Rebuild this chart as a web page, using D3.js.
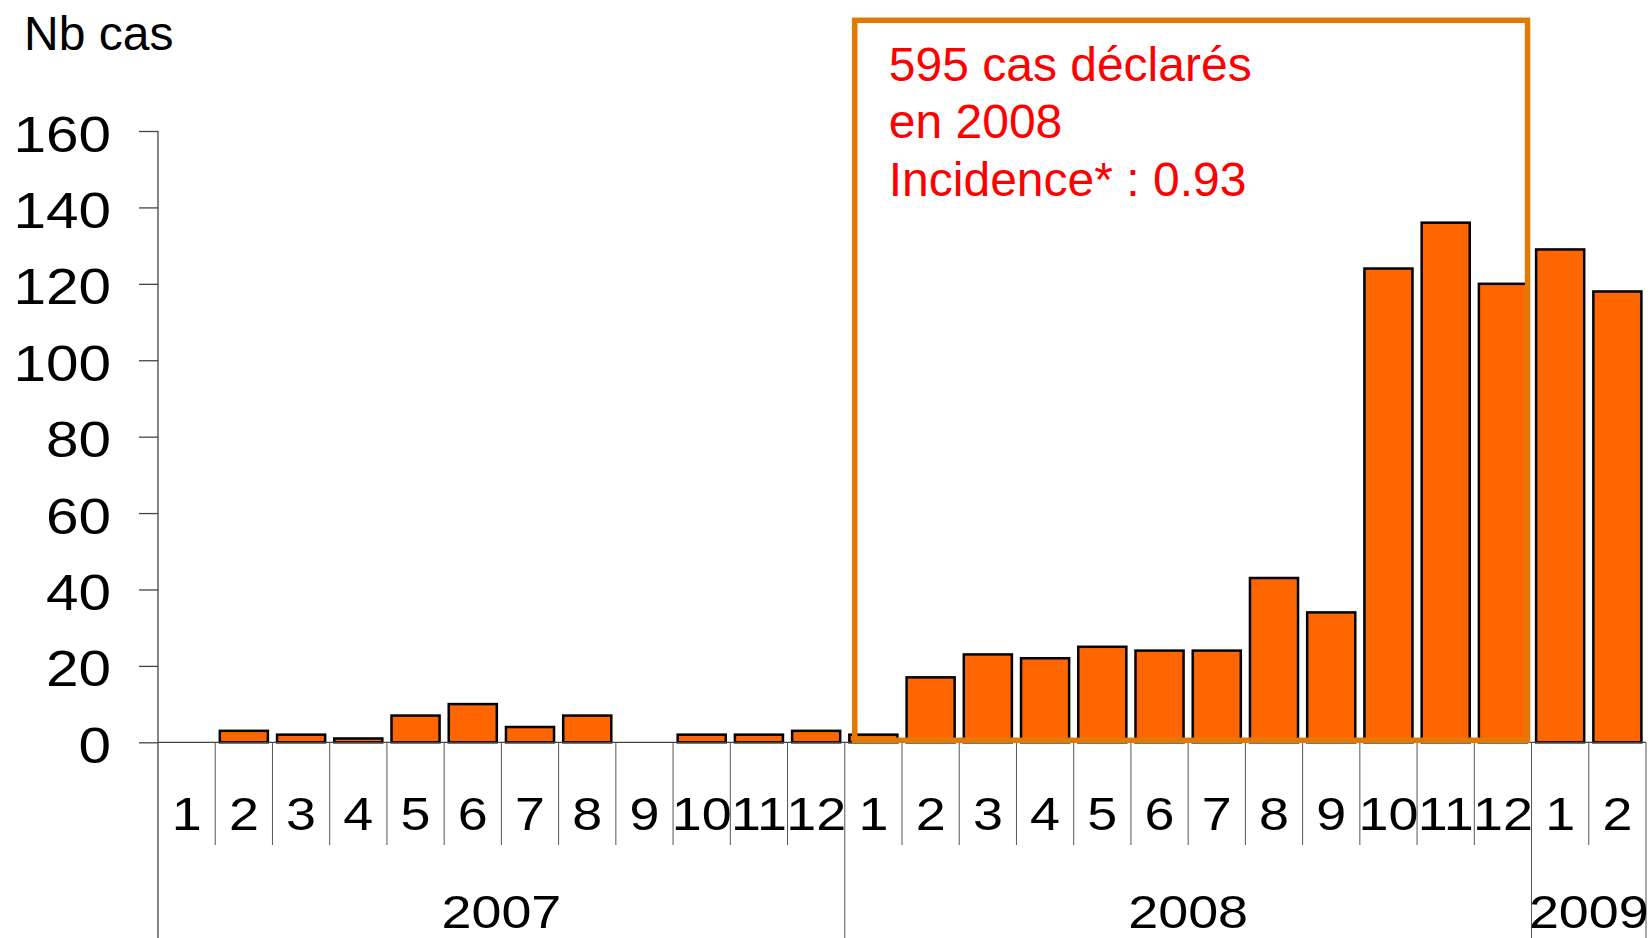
<!DOCTYPE html>
<html>
<head>
<meta charset="utf-8">
<script src="https://cdn.jsdelivr.net/npm/d3@7"></script>
<style>
  body { margin: 0; background: #fff; }
  text { font-family: "Liberation Sans", Arial, sans-serif; }
</style>
</head>
<body>
<script>
// Monthly case counts, Jan 2007 - Feb 2009
const years = ["2007", "2008", "2009"];
const monthsPerYear = [12, 12, 2];
const monthLabels = [
  "1", "2", "3", "4", "5", "6", "7", "8", "9", "10", "11", "12",
  "1", "2", "3", "4", "5", "6", "7", "8", "9", "10", "11", "12",
  "1", "2"
];
const cases = [
  0, 3, 2, 1, 7, 10, 4, 7, 0, 2, 2, 3,
  2, 17, 23, 22, 25, 24, 24, 43, 34, 124, 136, 120,
  129, 118
];
const yTicks = [0, 20, 40, 60, 80, 100, 120, 140, 160];
const boxLines = ["595 cas déclarés", "en 2008", "Incidence* : 0.93"];

const width = 1650;
const height = 938;
const left = 158;
const right = 1646;
const stretch = 1.17; // axis text is horizontally stretched in the original

// one key per month
const keys = [];
years.forEach((yr, i) => {
  for (let m = 0; m < monthsPerYear[i]; m++) keys.push(yr + "-" + (m + 1));
});
const data = keys.map((k, i) => ({ key: k, label: monthLabels[i], value: cases[i] }));

const svg = d3
  .select("body")
  .append("svg")
  .attr("width", width)
  .attr("height", height);

const cell = d3.scaleBand().domain(keys).range([left, right]).padding(0);
const x = d3.scaleBand().domain(keys).range([left, right]).paddingInner(0.16).paddingOuter(0.08);
const y = d3.scaleLinear().domain([0, 160]).range([742.3, 131]);
const step = cell.step();
const zeroY = y(0);

// Bars
svg
  .selectAll("rect.bar")
  .data(data.filter((d) => d.value > 0))
  .enter()
  .append("rect")
  .attr("class", "bar")
  .attr("x", (d) => x(d.key))
  .attr("width", x.bandwidth())
  .attr("y", (d) => y(d.value))
  .attr("height", (d) => zeroY - y(d.value))
  .attr("fill", "#FF6600")
  .attr("stroke", "#000")
  .attr("stroke-width", 2.5);

// Y axis
const yAxis = svg
  .append("g")
  .attr("transform", `translate(${left},0)`)
  .call(d3.axisLeft(y).tickValues(yTicks).tickSize(19));
yAxis.select(".domain").remove();
yAxis.selectAll(".tick line").attr("stroke", "#444").attr("stroke-width", 1.3);
yAxis
  .selectAll(".tick text")
  .attr("x", null)
  .attr("dy", null)
  .attr("transform", `translate(-47,20) scale(${stretch},1)`)
  .attr("fill", "#000")
  .attr("font-size", 50)
  .attr("font-family", '"Liberation Sans", Arial, sans-serif');

// axis line down to the bottom
svg
  .append("line")
  .attr("x1", left)
  .attr("x2", left)
  .attr("y1", y(160))
  .attr("y2", height)
  .attr("stroke", "#444")
  .attr("stroke-width", 1.3);

// zero line
svg
  .append("line")
  .attr("x1", left)
  .attr("x2", right)
  .attr("y1", zeroY)
  .attr("y2", zeroY)
  .attr("stroke", "#444")
  .attr("stroke-width", 1.3);

// month separators (year boundaries go to the bottom)
let yearStarts = [];
let acc = 0;
monthsPerYear.forEach((n) => {
  yearStarts.push(acc);
  acc += n;
});
const boundaries = d3.range(1, keys.length + 1);
svg
  .selectAll("line.sep")
  .data(boundaries)
  .enter()
  .append("line")
  .attr("class", "sep")
  .attr("x1", (i) => left + i * step)
  .attr("x2", (i) => left + i * step)
  .attr("y1", zeroY)
  .attr("y2", (i) => (yearStarts.includes(i) || i === keys.length ? height : 845))
  .attr("stroke", "#555")
  .attr("stroke-width", 1);

// month labels
svg
  .selectAll("text.month")
  .data(data)
  .enter()
  .append("text")
  .attr("class", "month")
  .attr("transform", (d) => `translate(${cell(d.key) + step / 2},830) scale(${stretch},1)`)
  .attr("text-anchor", "middle")
  .attr("font-size", 46)
  .text((d) => d.label);

// year labels
svg
  .selectAll("text.year")
  .data(years)
  .enter()
  .append("text")
  .attr("class", "year")
  .attr("transform", (d, i) => {
    const x0 = left + yearStarts[i] * step;
    const cx = x0 + (monthsPerYear[i] * step) / 2;
    return `translate(${cx},927.5) scale(${stretch},1)`;
  })
  .attr("text-anchor", "middle")
  .attr("font-size", 46)
  .text((d) => d);

// axis title
svg
  .append("text")
  .attr("x", 24)
  .attr("y", 50)
  .attr("font-size", 48)
  .text("Nb cas");

// 2008 annotation box
const box2008 = left + yearStarts[1] * step + 10;
const box2009 = left + yearStarts[2] * step - 4;
svg
  .append("rect")
  .attr("x", box2008)
  .attr("y", 20.3)
  .attr("width", box2009 - box2008)
  .attr("height", zeroY - 2 - 20.3)
  .attr("fill", "none")
  .attr("stroke", "#E17A05")
  .attr("stroke-width", 5.5);

svg
  .selectAll("text.note")
  .data(boxLines)
  .enter()
  .append("text")
  .attr("class", "note")
  .attr("x", box2008 + 34)
  .attr("y", (d, i) => 81 + i * 57.3)
  .attr("font-size", 48)
  .attr("fill", "#FF0000")
  .text((d) => d);
</script>
</body>
</html>
